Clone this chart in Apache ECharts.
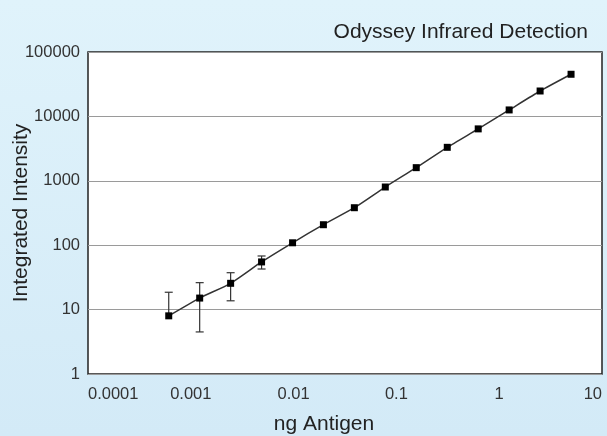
<!DOCTYPE html>
<html>
<head>
<meta charset="utf-8">
<script src="https://cdn.jsdelivr.net/npm/echarts@6/dist/echarts.min.js"></script>
<style>
  html, body { margin: 0; padding: 0; }
  #chart { width: 607px; height: 436px; }
</style>
</head>
<body>
<div id="chart"></div>
<script>
// 2-fold dilution series (ng antigen) and measured intensity
const antigen = [0.00061, 0.00122, 0.00244, 0.00488, 0.00977, 0.0195, 0.039, 0.078, 0.156, 0.3125, 0.625, 1.25, 2.5, 5];
const intensity = [8.0, 15.1, 25.6, 55, 109, 208, 382, 801, 1600, 3310, 6400, 12600, 24800, 45100];
// error bars only visible for the lowest amounts
const errX = [0.00061, 0.00122, 0.00244, 0.00488];
const errLow = [8.0, 4.5, 13.7, 42.7];
const errHigh = [18.6, 26.2, 37.4, 68];
const xTickLabels = ['0.0001', '0.001', '0.01', '0.1', '1', '10'];
const yTickLabels = ['1', '10', '100', '1000', '10000', '100000'];

const chart = echarts.init(document.getElementById('chart'));
const font = 'Liberation Sans, Arial, sans-serif';

let lineData = [];
for (let i = 0; i < antigen.length; i++) lineData.push([antigen[i], intensity[i]]);
let errData = [];
for (let i = 0; i < errX.length; i++) errData.push([errX[i], errLow[i], errHigh[i]]);

chart.setOption({
  backgroundColor: new echarts.graphic.LinearGradient(0, 0, 0, 1, [
    { offset: 0, color: '#e0f3fb' },
    { offset: 1, color: '#d3eaf7' }
  ]),
  animation: false,
  textStyle: { fontFamily: font },
  title: {
    text: 'Odyssey Infrared Detection',
    right: 14,
    top: 17,
    textStyle: { fontFamily: font, fontSize: 21, fontWeight: 'normal', color: '#222' }
  },
  grid: {
    left: 88, right: 5, top: 52, bottom: 62,
    containLabel: false,
    outerBoundsMode: 'none',
    show: true,
    backgroundColor: '#fff',
    borderColor: '#222',
    borderWidth: 1.5
  },
  xAxis: {
    type: 'log',
    logBase: 10,
    min: 0.0001,
    max: 10,
    name: 'ng Antigen',
    nameLocation: 'middle',
    nameGap: 40,
    nameMoveOverlap: false,
    nameTextStyle: { fontSize: 21, color: '#222', padding: [0, 42, 0, 0] },
    axisLine: { show: false },
    axisTick: { show: false },
    splitLine: { show: false },
    axisLabel: {
      fontSize: 16.5,
      color: '#333',
      margin: 12,
      alignMinLabel: 'left',
      alignMaxLabel: 'right',
      formatter: v => xTickLabels[Math.round(Math.log10(v)) + 4]
    }
  },
  yAxis: {
    type: 'log',
    logBase: 10,
    min: 1,
    max: 100000,
    name: 'Integrated Intensity',
    nameLocation: 'middle',
    nameGap: 56,
    nameMoveOverlap: false,
    nameTextStyle: { fontSize: 21, color: '#222' },
    axisLine: { show: false },
    axisTick: { show: false },
    splitLine: { show: true, lineStyle: { color: '#9a9a9a', width: 1.2 } },
    axisLabel: {
      fontSize: 16.5,
      color: '#333',
      margin: 8,
      formatter: v => yTickLabels[Math.round(Math.log10(v))]
    }
  },
  series: [
    {
      type: 'line',
      data: lineData,
      smooth: 0.2,
      symbol: 'rect',
      symbolSize: 7,
      itemStyle: { color: '#000' },
      lineStyle: { color: '#333', width: 1.5 },
      z: 3
    },
    {
      type: 'custom',
      data: errData,
      encode: { x: 0, y: [1, 2] },
      z: 2,
      renderItem: function (params, api) {
        const x = api.value(0);
        const lo = api.coord([x, api.value(1)]);
        const hi = api.coord([x, api.value(2)]);
        const cap = 4;
        const style = { stroke: '#333', lineWidth: 1.2 };
        let children = [
          { type: 'line', shape: { x1: lo[0], y1: lo[1], x2: hi[0], y2: hi[1] }, style: style },
          { type: 'line', shape: { x1: hi[0] - cap, y1: hi[1], x2: hi[0] + cap, y2: hi[1] }, style: style }
        ];
        if (api.value(1) < 0.999 * lineData[params.dataIndex][1]) {
          children.push({ type: 'line', shape: { x1: lo[0] - cap, y1: lo[1], x2: lo[0] + cap, y2: lo[1] }, style: style });
        }
        return { type: 'group', children: children };
      }
    }
  ]
});
</script>
</body>
</html>
